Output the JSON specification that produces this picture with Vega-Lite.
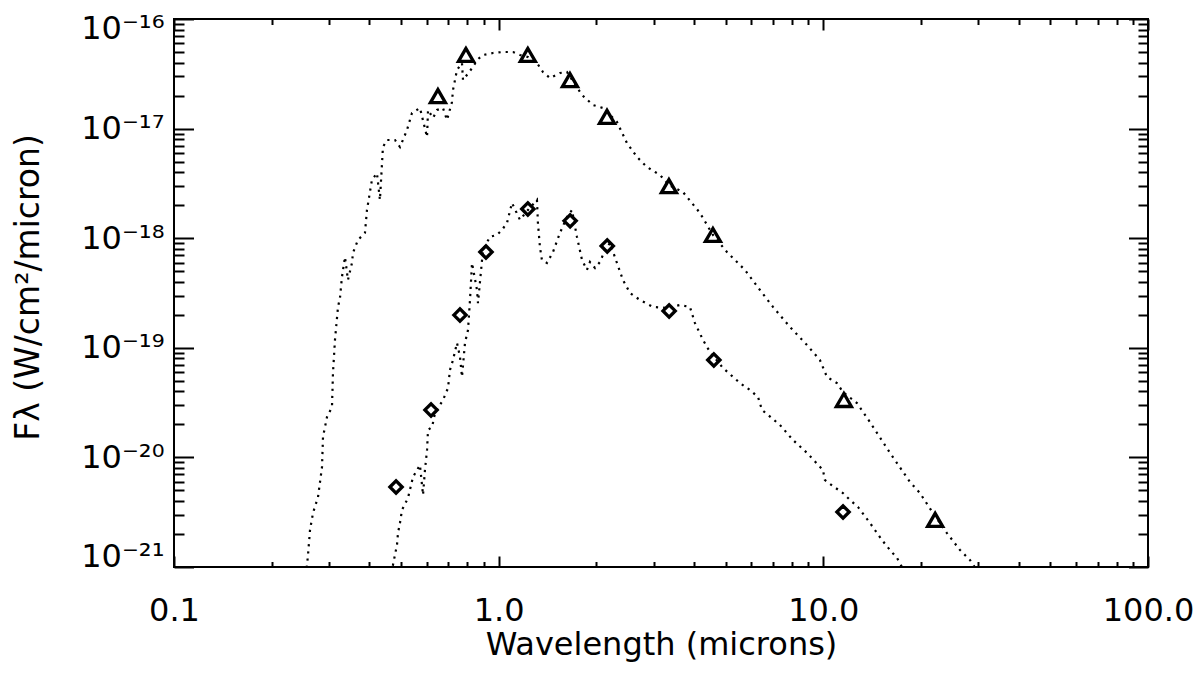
{
  "$schema": "https://vega.github.io/schema/vega-lite/v6.json",
  "width": 974,
  "height": 548,
  "autosize": {"type": "none"},
  "padding": {"left": 174, "top": 19, "right": 53, "bottom": 108},
  "background": "white",
  "config": {
    "view": {"stroke": "black", "strokeWidth": 2},
    "axis": {
      "domain": false,
      "grid": false,
      "labelFont": "DejaVu Sans",
      "titleFont": "DejaVu Sans",
      "labelColor": "black",
      "titleColor": "black",
      "tickColor": "black",
      "titleFontWeight": "normal"
    }
  },
  "datasets": {
    "curves": [
      {"model": "A", "wavelength": 0.2550, "flux": 8.45e-22},
      {"model": "A", "wavelength": 0.2587, "flux": 1.29e-21},
      {"model": "A", "wavelength": 0.2624, "flux": 2.18e-21},
      {"model": "A", "wavelength": 0.2680, "flux": 3.11e-21},
      {"model": "A", "wavelength": 0.2777, "flux": 4.35e-21},
      {"model": "A", "wavelength": 0.2857, "flux": 8.17e-21},
      {"model": "A", "wavelength": 0.2877, "flux": 1.54e-20},
      {"model": "A", "wavelength": 0.2960, "flux": 2.34e-20},
      {"model": "A", "wavelength": 0.3066, "flux": 2.88e-20},
      {"model": "A", "wavelength": 0.3088, "flux": 5.89e-20},
      {"model": "A", "wavelength": 0.3132, "flux": 1.18e-19},
      {"model": "A", "wavelength": 0.3200, "flux": 2.36e-19},
      {"model": "A", "wavelength": 0.3245, "flux": 2.85e-19},
      {"model": "A", "wavelength": 0.3291, "flux": 4.43e-19},
      {"model": "A", "wavelength": 0.3362, "flux": 6.74e-19},
      {"model": "A", "wavelength": 0.3434, "flux": 4.15e-19},
      {"model": "A", "wavelength": 0.3533, "flux": 5.94e-19},
      {"model": "A", "wavelength": 0.3558, "flux": 7.33e-19},
      {"model": "A", "wavelength": 0.3686, "flux": 9.63e-19},
      {"model": "A", "wavelength": 0.3874, "flux": 1.12e-18},
      {"model": "A", "wavelength": 0.3930, "flux": 1.81e-18},
      {"model": "A", "wavelength": 0.4070, "flux": 3.40e-18},
      {"model": "A", "wavelength": 0.4218, "flux": 3.93e-18},
      {"model": "A", "wavelength": 0.4308, "flux": 2.23e-18},
      {"model": "A", "wavelength": 0.4401, "flux": 6.79e-18},
      {"model": "A", "wavelength": 0.4529, "flux": 7.87e-18},
      {"model": "A", "wavelength": 0.4793, "flux": 7.87e-18},
      {"model": "A", "wavelength": 0.4966, "flux": 6.79e-18},
      {"model": "A", "wavelength": 0.5220, "flux": 9.71e-18},
      {"model": "A", "wavelength": 0.5408, "flux": 1.388e-17},
      {"model": "A", "wavelength": 0.5722, "flux": 1.542e-17},
      {"model": "A", "wavelength": 0.6017, "flux": 8.38e-18},
      {"model": "A", "wavelength": 0.6060, "flux": 1.478e-17},
      {"model": "A", "wavelength": 0.6279, "flux": 1.25e-17},
      {"model": "A", "wavelength": 0.6457, "flux": 1.478e-17},
      {"model": "A", "wavelength": 0.6738, "flux": 1.542e-17},
      {"model": "A", "wavelength": 0.6931, "flux": 1.198e-17},
      {"model": "A", "wavelength": 0.7181, "flux": 1.748e-17},
      {"model": "A", "wavelength": 0.7233, "flux": 2.25e-17},
      {"model": "A", "wavelength": 0.7441, "flux": 3.424e-17},
      {"model": "A", "wavelength": 0.7709, "flux": 3.968e-17},
      {"model": "A", "wavelength": 0.7765, "flux": 2.775e-17},
      {"model": "A", "wavelength": 0.8334, "flux": 3.648e-17},
      {"model": "A", "wavelength": 0.8574, "flux": 4.225e-17},
      {"model": "A", "wavelength": 0.8947, "flux": 4.694e-17},
      {"model": "A", "wavelength": 0.9603, "flux": 4.896e-17},
      {"model": "A", "wavelength": 1.031, "flux": 5.0e-17},
      {"model": "A", "wavelength": 1.107, "flux": 5.0e-17},
      {"model": "A", "wavelength": 1.163, "flux": 4.694e-17},
      {"model": "A", "wavelength": 1.231, "flux": 4.499e-17},
      {"model": "A", "wavelength": 1.312, "flux": 3.968e-17},
      {"model": "A", "wavelength": 1.369, "flux": 3.284e-17},
      {"model": "A", "wavelength": 1.439, "flux": 2.895e-17},
      {"model": "A", "wavelength": 1.545, "flux": 3.216e-17},
      {"model": "A", "wavelength": 1.623, "flux": 3.284e-17},
      {"model": "A", "wavelength": 1.806, "flux": 2.025e-17},
      {"model": "A", "wavelength": 1.952, "flux": 1.641e-17},
      {"model": "A", "wavelength": 2.096, "flux": 1.542e-17},
      {"model": "A", "wavelength": 2.314, "flux": 1.149e-17},
      {"model": "A", "wavelength": 2.484, "flux": 7.39e-18},
      {"model": "A", "wavelength": 2.667, "flux": 5.51e-18},
      {"model": "A", "wavelength": 2.862, "flux": 4.46e-18},
      {"model": "A", "wavelength": 3.140, "flux": 3.77e-18},
      {"model": "A", "wavelength": 3.346, "flux": 3.06e-18},
      {"model": "A", "wavelength": 3.695, "flux": 2.64e-18},
      {"model": "A", "wavelength": 4.169, "flux": 1.70e-18},
      {"model": "A", "wavelength": 4.571, "flux": 1.07e-18},
      {"model": "A", "wavelength": 5.048, "flux": 7.48e-19},
      {"model": "A", "wavelength": 5.736, "flux": 5.13e-19},
      {"model": "A", "wavelength": 6.380, "flux": 3.37e-19},
      {"model": "A", "wavelength": 6.997, "flux": 2.36e-19},
      {"model": "A", "wavelength": 7.889, "flux": 1.55e-19},
      {"model": "A", "wavelength": 8.904, "flux": 1.06e-19},
      {"model": "A", "wavelength": 9.761, "flux": 7.74e-20},
      {"model": "A", "wavelength": 10.26, "flux": 5.42e-20},
      {"model": "A", "wavelength": 11.01, "flux": 4.77e-20},
      {"model": "A", "wavelength": 11.49, "flux": 3.95e-20},
      {"model": "A", "wavelength": 12.69, "flux": 3.13e-20},
      {"model": "A", "wavelength": 13.92, "flux": 2.10e-20},
      {"model": "A", "wavelength": 16.04, "flux": 1.10e-20},
      {"model": "A", "wavelength": 18.49, "flux": 5.96e-21},
      {"model": "A", "wavelength": 19.84, "flux": 4.73e-21},
      {"model": "A", "wavelength": 21.76, "flux": 3.11e-21},
      {"model": "A", "wavelength": 24.03, "flux": 2.04e-21},
      {"model": "A", "wavelength": 26.35, "flux": 1.43e-21},
      {"model": "A", "wavelength": 28.28, "flux": 1.16e-21},
      {"model": "A", "wavelength": 30.36, "flux": 8.45e-22},
      {"model": "B", "wavelength": 0.4658, "flux": 7.61e-22},
      {"model": "B", "wavelength": 0.4725, "flux": 1.04e-21},
      {"model": "B", "wavelength": 0.4793, "flux": 1.29e-21},
      {"model": "B", "wavelength": 0.4862, "flux": 1.59e-21},
      {"model": "B", "wavelength": 0.4897, "flux": 2.04e-21},
      {"model": "B", "wavelength": 0.4966, "flux": 2.52e-21},
      {"model": "B", "wavelength": 0.5037, "flux": 3.31e-21},
      {"model": "B", "wavelength": 0.5257, "flux": 4.26e-21},
      {"model": "B", "wavelength": 0.5447, "flux": 6.62e-21},
      {"model": "B", "wavelength": 0.5722, "flux": 8.52e-21},
      {"model": "B", "wavelength": 0.5848, "flux": 4.54e-21},
      {"model": "B", "wavelength": 0.5929, "flux": 7.67e-21},
      {"model": "B", "wavelength": 0.6017, "flux": 1.17e-20},
      {"model": "B", "wavelength": 0.6060, "flux": 1.78e-20},
      {"model": "B", "wavelength": 0.6234, "flux": 1.89e-20},
      {"model": "B", "wavelength": 0.6368, "flux": 2.54e-20},
      {"model": "B", "wavelength": 0.6738, "flux": 3.34e-20},
      {"model": "B", "wavelength": 0.6982, "flux": 4.30e-20},
      {"model": "B", "wavelength": 0.7080, "flux": 6.27e-20},
      {"model": "B", "wavelength": 0.7233, "flux": 7.74e-20},
      {"model": "B", "wavelength": 0.7441, "flux": 1.11e-19},
      {"model": "B", "wavelength": 0.7602, "flux": 8.24e-20},
      {"model": "B", "wavelength": 0.7709, "flux": 5.42e-20},
      {"model": "B", "wavelength": 0.7876, "flux": 1.11e-19},
      {"model": "B", "wavelength": 0.8045, "flux": 1.45e-19},
      {"model": "B", "wavelength": 0.8160, "flux": 2.73e-19},
      {"model": "B", "wavelength": 0.8278, "flux": 5.94e-19},
      {"model": "B", "wavelength": 0.8574, "flux": 3.37e-19},
      {"model": "B", "wavelength": 0.8636, "flux": 2.56e-19},
      {"model": "B", "wavelength": 0.8947, "flux": 7.80e-19},
      {"model": "B", "wavelength": 0.9401, "flux": 1.03e-18},
      {"model": "B", "wavelength": 0.9881, "flux": 1.07e-18},
      {"model": "B", "wavelength": 1.024, "flux": 1.19e-18},
      {"model": "B", "wavelength": 1.061, "flux": 1.38e-18},
      {"model": "B", "wavelength": 1.099, "flux": 2.10e-18},
      {"model": "B", "wavelength": 1.163, "flux": 1.47e-18},
      {"model": "B", "wavelength": 1.231, "flux": 1.81e-18},
      {"model": "B", "wavelength": 1.312, "flux": 2.23e-18},
      {"model": "B", "wavelength": 1.321, "flux": 1.38e-18},
      {"model": "B", "wavelength": 1.340, "flux": 8.31e-19},
      {"model": "B", "wavelength": 1.359, "flux": 6.33e-19},
      {"model": "B", "wavelength": 1.408, "flux": 5.94e-19},
      {"model": "B", "wavelength": 1.470, "flux": 7.48e-19},
      {"model": "B", "wavelength": 1.545, "flux": 1.12e-18},
      {"model": "B", "wavelength": 1.623, "flux": 1.56e-18},
      {"model": "B", "wavelength": 1.682, "flux": 1.81e-18},
      {"model": "B", "wavelength": 1.742, "flux": 1.03e-18},
      {"model": "B", "wavelength": 1.806, "flux": 6.33e-19},
      {"model": "B", "wavelength": 1.870, "flux": 5.13e-19},
      {"model": "B", "wavelength": 1.911, "flux": 6.07e-19},
      {"model": "B", "wavelength": 1.981, "flux": 5.35e-19},
      {"model": "B", "wavelength": 2.051, "flux": 6.07e-19},
      {"model": "B", "wavelength": 2.126, "flux": 7.80e-19},
      {"model": "B", "wavelength": 2.202, "flux": 9.04e-19},
      {"model": "B", "wavelength": 2.314, "flux": 5.94e-19},
      {"model": "B", "wavelength": 2.415, "flux": 4.15e-19},
      {"model": "B", "wavelength": 2.538, "flux": 3.16e-19},
      {"model": "B", "wavelength": 2.725, "flux": 2.73e-19},
      {"model": "B", "wavelength": 2.988, "flux": 2.36e-19},
      {"model": "B", "wavelength": 3.298, "flux": 2.31e-19},
      {"model": "B", "wavelength": 3.616, "flux": 2.46e-19},
      {"model": "B", "wavelength": 3.882, "flux": 2.36e-19},
      {"model": "B", "wavelength": 4.024, "flux": 1.68e-19},
      {"model": "B", "wavelength": 4.259, "flux": 1.18e-19},
      {"model": "B", "wavelength": 4.476, "flux": 9.15e-20},
      {"model": "B", "wavelength": 4.908, "flux": 6.54e-20},
      {"model": "B", "wavelength": 5.536, "flux": 4.77e-20},
      {"model": "B", "wavelength": 5.943, "flux": 4.12e-20},
      {"model": "B", "wavelength": 6.291, "flux": 3.56e-20},
      {"model": "B", "wavelength": 6.472, "flux": 2.71e-20},
      {"model": "B", "wavelength": 7.350, "flux": 1.98e-20},
      {"model": "B", "wavelength": 8.062, "flux": 1.44e-20},
      {"model": "B", "wavelength": 8.904, "flux": 1.10e-20},
      {"model": "B", "wavelength": 9.973, "flux": 7.67e-21},
      {"model": "B", "wavelength": 10.11, "flux": 6.22e-21},
      {"model": "B", "wavelength": 10.70, "flux": 5.48e-21},
      {"model": "B", "wavelength": 11.49, "flux": 4.73e-21},
      {"model": "B", "wavelength": 12.08, "flux": 4.09e-21},
      {"model": "B", "wavelength": 12.78, "flux": 3.53e-21},
      {"model": "B", "wavelength": 13.92, "flux": 2.52e-21},
      {"model": "B", "wavelength": 15.16, "flux": 1.76e-21},
      {"model": "B", "wavelength": 16.04, "flux": 1.43e-21},
      {"model": "B", "wavelength": 16.86, "flux": 1.21e-21},
      {"model": "B", "wavelength": 17.46, "flux": 1.00e-21},
      {"model": "B", "wavelength": 17.97, "flux": 8.45e-22}
    ],
    "photometry": [
      {"set": "A", "wavelength": 0.65, "flux": 1.98e-17},
      {"set": "A", "wavelength": 0.793, "flux": 4.7e-17},
      {"set": "A", "wavelength": 1.23, "flux": 4.7e-17},
      {"set": "A", "wavelength": 1.658, "flux": 2.77e-17},
      {"set": "A", "wavelength": 2.156, "flux": 1.28e-17},
      {"set": "A", "wavelength": 3.345, "flux": 2.99e-18},
      {"set": "A", "wavelength": 4.57, "flux": 1.07e-18},
      {"set": "A", "wavelength": 11.57, "flux": 3.34e-20},
      {"set": "A", "wavelength": 22.1, "flux": 2.69e-21},
      {"set": "B", "wavelength": 0.483, "flux": 5.37e-21},
      {"set": "B", "wavelength": 0.619, "flux": 2.71e-20},
      {"set": "B", "wavelength": 0.760, "flux": 1.99e-19},
      {"set": "B", "wavelength": 0.914, "flux": 7.48e-19},
      {"set": "B", "wavelength": 1.23, "flux": 1.85e-18},
      {"set": "B", "wavelength": 1.66, "flux": 1.44e-18},
      {"set": "B", "wavelength": 2.16, "flux": 8.5e-19},
      {"set": "B", "wavelength": 3.35, "flux": 2.17e-19},
      {"set": "B", "wavelength": 4.6, "flux": 7.75e-20},
      {"set": "B", "wavelength": 11.5, "flux": 3.18e-21}
    ]
  },
  "layer": [
    {
      "data": {"name": "curves"},
      "mark": {"type": "line", "color": "black", "strokeWidth": 2.2, "strokeDash": [2.2, 5], "clip": true},
      "encoding": {
        "x": {
          "field": "wavelength",
          "type": "quantitative",
          "scale": {"type": "log", "domain": [0.1, 100], "nice": false},
          "axis": {
            "orient": "bottom",
            "values": [0.1, 1, 10, 100],
            "format": ".1f",
            "ticks": false,
            "labelFontSize": 32,
            "labelPadding": 28,
            "labelFlush": false,
            "labelOverlap": false,
            "title": "Wavelength (microns)",
            "titleFontSize": 32,
            "titleBaseline": "alphabetic",
            "titleY": 87
          }
        },
        "y": {
          "field": "flux",
          "type": "quantitative",
          "scale": {"type": "log", "domain": [1e-21, 1e-16], "nice": false},
          "axis": {
            "orient": "left",
            "values": [1e-21, 1e-20, 1e-19, 1e-18, 1e-17, 1e-16],
            "labelExpr": "datum.value > 5e-17 ? '10⁻¹⁶' : datum.value > 5e-18 ? '10⁻¹⁷' : datum.value > 5e-19 ? '10⁻¹⁸' : datum.value > 5e-20 ? '10⁻¹⁹' : datum.value > 5e-21 ? '10⁻²⁰' : '10⁻²¹'",
            "ticks": false,
            "labelFontSize": 32,
            "labelPadding": 10,
            "labelFlush": true,
            "labelFlushOffset": 6,
            "labelOverlap": false,
            "title": "Fλ (W/cm²/micron)",
            "titleFontSize": 33,
            "titleAngle": -90,
            "titleAlign": "center",
            "titleBaseline": "alphabetic",
            "titleX": -136,
            "titleY": 268
          }
        },
        "detail": {"field": "model"}
      }
    },
    {
      "data": {"name": "photometry"},
      "mark": {"type": "point", "filled": false, "color": "black", "strokeWidth": 3.3, "opacity": 1},
      "encoding": {
        "x": {"field": "wavelength", "type": "quantitative", "axis": null},
        "y": {"field": "flux", "type": "quantitative", "axis": null},
        "shape": {"field": "set", "type": "nominal", "scale": {"domain": ["A", "B"], "range": ["triangle-up", "diamond"]}, "legend": null},
        "size": {"field": "set", "type": "nominal", "scale": {"domain": ["A", "B"], "range": [225, 150]}, "legend": null}
      }
    },
    {
      "data": {"name": "photometry"},
      "mark": {"type": "point", "opacity": 0},
      "encoding": {
        "x": {
          "field": "wavelength",
          "type": "quantitative",
          "axis": {
            "orient": "bottom",
            "values": [0.1, 0.2, 0.3, 0.4, 0.5, 0.6, 0.7, 0.8, 0.9, 1, 2, 3, 4, 5, 6, 7, 8, 9, 10, 20, 30, 40, 50, 60, 70, 80, 90, 100],
            "labels": false,
            "title": null,
            "tickWidth": 2,
            "tickSize": {"condition": {"test": "abs(log(datum.value)/LN10 - round(log(datum.value)/LN10)) < 0.001", "value": -11}, "value": -5.5}
          }
        },
        "y": {
          "field": "flux",
          "type": "quantitative",
          "axis": {
            "orient": "left",
            "values": [1e-21, 2e-21, 3e-21, 4e-21, 5e-21, 6e-21, 7e-21, 8e-21, 9e-21, 1e-20, 2e-20, 3e-20, 4e-20, 5e-20, 6e-20, 7e-20, 8e-20, 9e-20, 1e-19, 2e-19, 3e-19, 4e-19, 5e-19, 6e-19, 7e-19, 8e-19, 9e-19, 1e-18, 2e-18, 3e-18, 4e-18, 5e-18, 6e-18, 7e-18, 8e-18, 9e-18, 1e-17, 2e-17, 3e-17, 4e-17, 5e-17, 6e-17, 7e-17, 8e-17, 9e-17, 1e-16],
            "labels": false,
            "title": null,
            "tickWidth": 2,
            "tickSize": {"condition": {"test": "abs(log(datum.value)/LN10 - round(log(datum.value)/LN10)) < 0.001", "value": -19.5}, "value": -10}
          }
        }
      }
    },
    {
      "data": {"name": "photometry"},
      "mark": {"type": "point", "opacity": 0},
      "encoding": {
        "x": {
          "field": "wavelength",
          "type": "quantitative",
          "axis": {
            "orient": "top",
            "values": [0.1, 0.2, 0.3, 0.4, 0.5, 0.6, 0.7, 0.8, 0.9, 1, 2, 3, 4, 5, 6, 7, 8, 9, 10, 20, 30, 40, 50, 60, 70, 80, 90, 100],
            "labels": false,
            "title": null,
            "tickWidth": 2,
            "tickSize": {"condition": {"test": "abs(log(datum.value)/LN10 - round(log(datum.value)/LN10)) < 0.001", "value": -11}, "value": -5.5}
          }
        },
        "y": {
          "field": "flux",
          "type": "quantitative",
          "axis": {
            "orient": "right",
            "values": [1e-21, 2e-21, 3e-21, 4e-21, 5e-21, 6e-21, 7e-21, 8e-21, 9e-21, 1e-20, 2e-20, 3e-20, 4e-20, 5e-20, 6e-20, 7e-20, 8e-20, 9e-20, 1e-19, 2e-19, 3e-19, 4e-19, 5e-19, 6e-19, 7e-19, 8e-19, 9e-19, 1e-18, 2e-18, 3e-18, 4e-18, 5e-18, 6e-18, 7e-18, 8e-18, 9e-18, 1e-17, 2e-17, 3e-17, 4e-17, 5e-17, 6e-17, 7e-17, 8e-17, 9e-17, 1e-16],
            "labels": false,
            "title": null,
            "tickWidth": 2,
            "tickSize": {"condition": {"test": "abs(log(datum.value)/LN10 - round(log(datum.value)/LN10)) < 0.001", "value": -19.5}, "value": -10}
          }
        }
      }
    }
  ],
  "resolve": {"axis": {"x": "independent", "y": "independent"}}
}
